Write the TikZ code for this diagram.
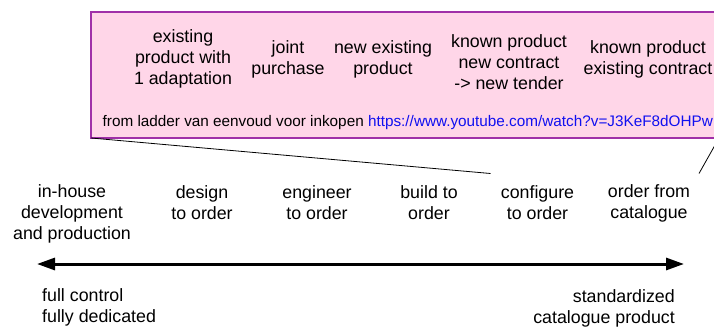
\documentclass[tikz,border=0pt]{standalone}
\usepackage{fontspec}
\setmainfont{Liberation Sans}
\usetikzlibrary{arrows.meta}
\definecolor{boxfill}{HTML}{FFD6E8}
\definecolor{boxline}{HTML}{A030A8}
\definecolor{linkblue}{HTML}{1010F0}
\tikzset{
  lbl/.style={align=center, inner sep=0pt, font=\fontsize{17.8}{21}\selectfont},
  note/.style={inner sep=0pt, font=\fontsize{15.3}{18}\selectfont},
  callout/.style={draw=black, line width=0.8pt},
  scale arrow/.style={line width=3pt, {Triangle[length=18pt,width=12pt]}-{Triangle[length=18pt,width=12pt]}},
}
\begin{document}
\begin{tikzpicture}[x=1pt, y=-1pt]
  \useasboundingbox (0,0) rectangle (714,329);

  % zoomed-in panel (continues past the right edge)
  \draw[boxline, fill=boxfill, line width=1.2pt] (91,12) rectangle (740,138);
  \coordinate (panelBL) at (91,138);
  \coordinate (panelBR) at (719,138);

  \node[lbl] (p1) at (183,58.5) {existing\\product with\\1 adaptation};
  \node[lbl] (p2) at (288,59) {joint\\purchase};
  \node[lbl] (p3) at (383,59) {new existing\\product};
  \node[lbl] (p4) at (509,62.5) {known product\\new contract\\-> new tender};
  \node[lbl] (p5) at (648,59) {known product\\existing contract};
  \node[note, anchor=west] (src) at (102.5,123) {from ladder van eenvoud voor inkopen \textcolor{linkblue}{https://www.youtube.com/watch?v=J3KeF8dOHPw}};

  % callout lines down to the scale
  \coordinate (zoomL) at (490.5,173.5);
  \coordinate (zoomR) at (699,173.5);
  \draw[callout] (panelBL) -- (zoomL);
  \draw[callout] (panelBR) -- (zoomR);

  % procurement types along the scale
  \node[lbl] (s1) at (72,213.5) {in-house\\development\\and production};
  \node[lbl] (s2) at (202,203) {design\\to order};
  \node[lbl] (s3) at (317,203) {engineer\\to order};
  \node[lbl] (s4) at (429,203) {build to\\order};
  \node[lbl] (s5) at (537.5,203) {configure\\to order};
  \node[lbl] (s6) at (649,203) {order from\\catalogue};

  % the scale
  \coordinate (scaleL) at (37,264);
  \coordinate (scaleR) at (684,264);
  \draw[scale arrow] (scaleL) -- (scaleR);

  \node[lbl, align=left, anchor=west] (e1) at (42,307) {full control\\fully dedicated};
  \node[lbl, align=right, anchor=east] (e2) at (675,308) {standardized\\catalogue product};
\end{tikzpicture}
\end{document}
